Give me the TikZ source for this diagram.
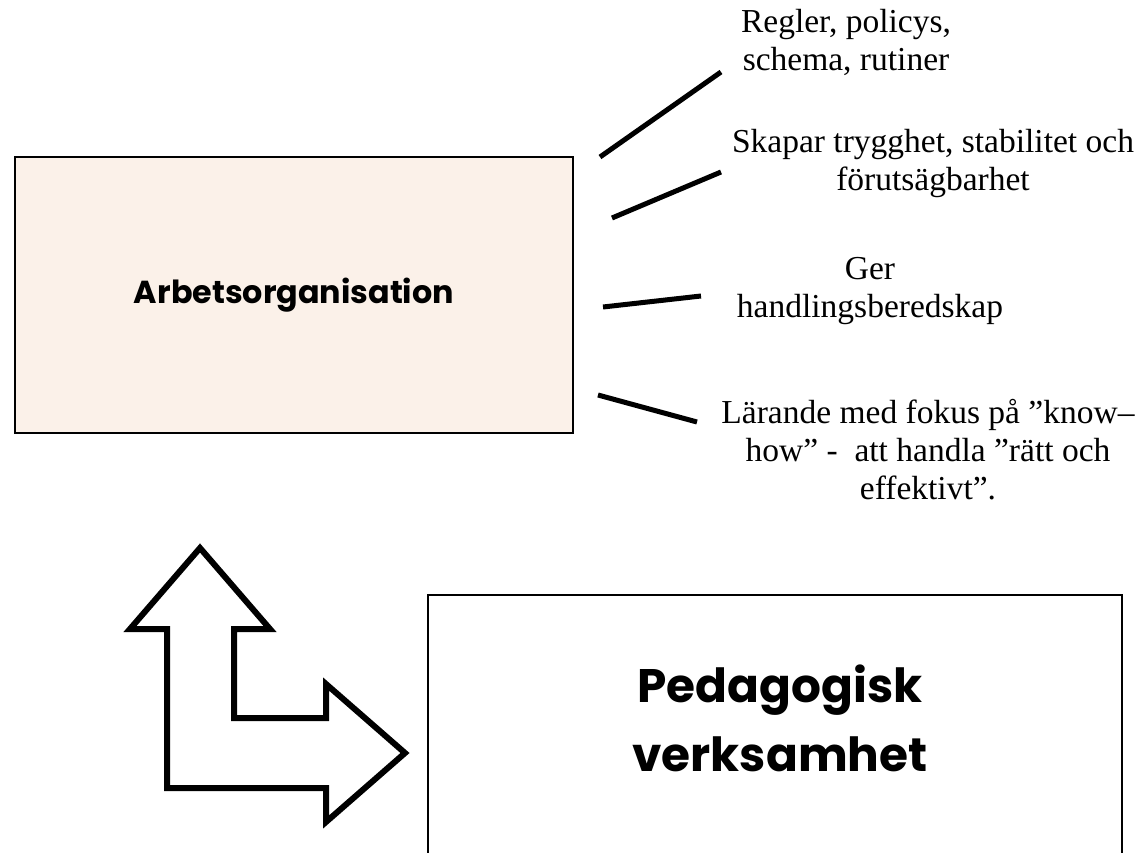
\documentclass[tikz,border=0pt]{standalone}
\usepackage{fontspec}
\setmainfont{Liberation Serif}
\newfontfamily\boxfont{Poppins}
\definecolor{beige}{RGB}{251,241,233}
\begin{document}
\begin{tikzpicture}[x=1pt,y=-1pt,
  lbl/.style={font=\fontsize{33.5}{38}\selectfont, align=center, inner sep=0pt},
  conn/.style={line width=5pt},
  boxtxt/.style={align=center, inner sep=0pt}]
\useasboundingbox (0,0) rectangle (1146,853);
% top box
\node[draw, fill=beige, line width=1.5pt, minimum width=558pt, minimum height=276pt,
      boxtxt, font=\boxfont\bfseries\fontsize{31.8}{36}\selectfont] (ao) at (294,295) {Arbetsorganisation};
% bottom box (open at the bottom edge of the page)
\coordinate (pbl) at (428,853);
\coordinate (pbr) at (1122,853);
\draw[line width=1.5pt] (pbl) |- (pbr |- 0,595) -- (pbr);
\node[boxtxt, font=\boxfont\bfseries\fontsize{47}{69}\selectfont] (pv) at (780,718) {Pedagogisk\\verksamhet};
% bent arrow
\draw[line width=6pt, fill=white, line join=miter]
  (200,548) -- (270,629) -- (234,629) -- (234,718) -- (326,718) -- (326,684)
  -- (405,753) -- (326,822) -- (326,788) -- (167,788) -- (167,629) -- (130,629) -- cycle;
% labels
\node[lbl] (t1) at (846,42) {Regler, policys,\\schema, rutiner};
\node[lbl] (t2) at (933,163) {Skapar trygghet, stabilitet och\\förutsägbarhet};
\node[lbl] (t3) at (870,291) {Ger\\handlingsberedskap};
\node[lbl] (t4) at (928,450) {Lärande med fokus på ”know–\\how” -\ \ att handla ”rätt och\\effektivt”.};
% connector lines
\coordinate (l1a) at (600,157); \coordinate (l1b) at (721,72);
\coordinate (l2a) at (612,218); \coordinate (l2b) at (721,172);
\coordinate (l3a) at (603,307); \coordinate (l3b) at (701,296);
\coordinate (l4a) at (598,395); \coordinate (l4b) at (697,422);
\draw[conn] (l1a) -- (l1b);
\draw[conn] (l2a) -- (l2b);
\draw[conn] (l3a) -- (l3b);
\draw[conn] (l4a) -- (l4b);
\end{tikzpicture}
\end{document}
